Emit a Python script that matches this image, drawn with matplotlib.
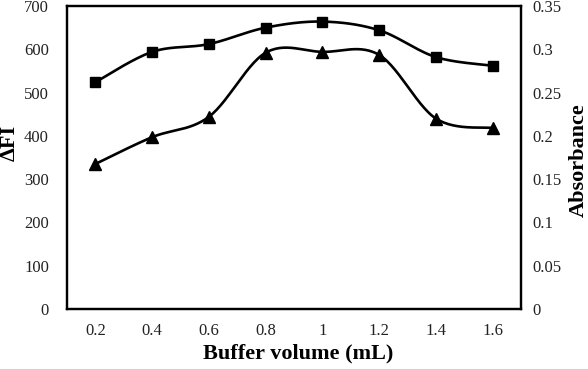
import numpy as np
import matplotlib
matplotlib.use("Agg")
import matplotlib.pyplot as plt

# data
volumes = ["0.2", "0.4", "0.6", "0.8", "1", "1.2", "1.4", "1.6"]
delta_fi = [335, 397, 444, 592, 594, 587, 440, 418]          # triangles
absorbance = [0.262, 0.297, 0.306, 0.325, 0.332, 0.322, 0.291, 0.281]  # squares

plt.rcParams['font.family'] = ['Liberation Serif', 'DejaVu Serif']


def smooth(x, y, n=30):
    # Excel-like smoothed line (Bezier with 1/6 control points)
    x = np.asarray(x, float)
    y = np.asarray(y, float)
    px = np.concatenate([[x[0]], x, [x[-1]]])
    py = np.concatenate([[y[0]], y, [y[-1]]])
    xs, ys = [], []
    t = np.linspace(0, 1, n)
    for i in range(1, len(px) - 2):
        p0 = np.array([px[i], py[i]])
        p3 = np.array([px[i + 1], py[i + 1]])
        c1 = p0 + (np.array([px[i + 1], py[i + 1]]) - np.array([px[i - 1], py[i - 1]])) / 6
        c2 = p3 - (np.array([px[i + 2], py[i + 2]]) - np.array([px[i], py[i]])) / 6
        b = ((1 - t) ** 3)[:, None] * p0 + (3 * (1 - t) ** 2 * t)[:, None] * c1 \
            + (3 * (1 - t) * t ** 2)[:, None] * c2 + (t ** 3)[:, None] * p3
        xs.extend(b[:, 0])
        ys.extend(b[:, 1])
    return np.array(xs), np.array(ys)


fig = plt.figure(figsize=(5.88, 3.69), dpi=100)
ax = fig.add_axes([67 / 588, 60 / 369, 454 / 588, 303 / 369])
ax2 = ax.twinx()

x = np.arange(len(volumes)) + 0.5

sx, sy = smooth(x, delta_fi)
ax.plot(sx, sy, color='black', lw=1.9)
ax.plot(x, delta_fi, ls='none', marker='^', ms=8, color='black')

sx, sy = smooth(x, absorbance)
ax2.plot(sx, sy, color='black', lw=1.9)
ax2.plot(x, absorbance, ls='none', marker='s', ms=7.5, color='black')

ax.set_xlim(0, len(volumes))
ax.set_xticks(x)
ax.set_xticklabels(volumes)
ax.set_ylim(0, 700)
ax.set_yticks(np.arange(0, 701, 100))
ax2.set_ylim(0, 0.35)
ax2.set_yticks(np.arange(0, 0.351, 0.05))
ax2.set_yticklabels(["0", "0.05", "0.1", "0.15", "0.2", "0.25", "0.3", "0.35"])

ax.tick_params(axis='both', length=0, labelsize=12, colors='#222222')
ax.tick_params(axis='x', pad=10)
ax.tick_params(axis='y', pad=13)
ax2.tick_params(axis='y', length=0, labelsize=12, colors='#222222', pad=8)

for a in (ax, ax2):
    for s in a.spines.values():
        s.set_linewidth(1.6)
        s.set_color('black')

fig.text(298 / 588, 1 - 353 / 369, "Buffer volume (mL)", fontsize=16, fontweight='bold',
         ha='center', va='center')
fig.text(10 / 588, 1 - 143 / 369, "ΔFI", fontsize=16, fontweight='bold',
         ha='center', va='center', rotation=90)
fig.text(579 / 588, 1 - 160 / 369, "Absorbance", fontsize=16, fontweight='bold',
         ha='center', va='center', rotation=90)

fig.savefig("out.png", dpi=100)
